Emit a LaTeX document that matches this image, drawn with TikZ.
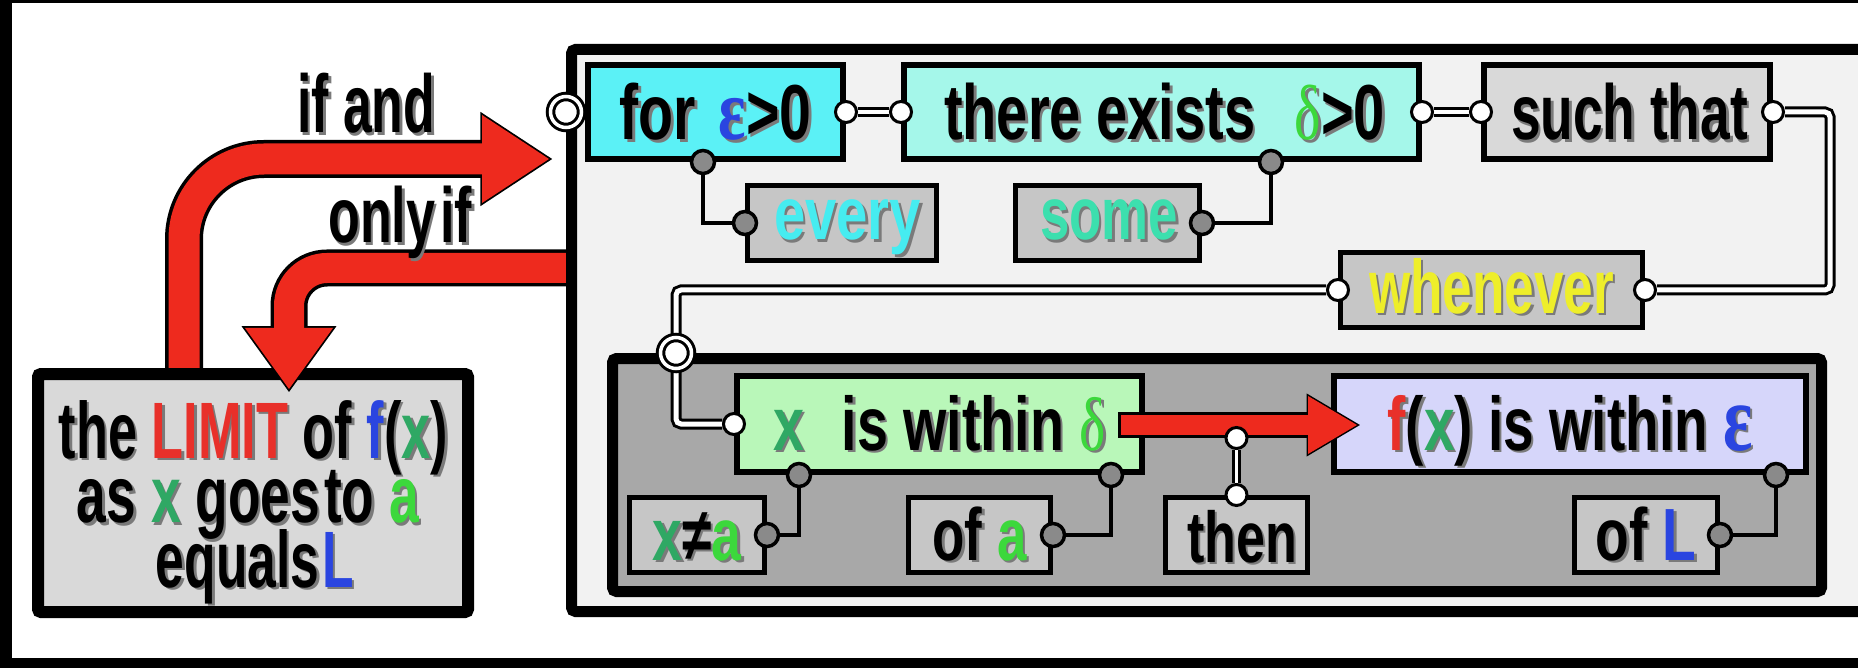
\documentclass[tikz,border=0pt]{standalone}
\usepackage{fontspec}
\usepackage{graphicx}
\setmainfont{Liberation Sans}
\newfontfamily\gk{Liberation Serif}
\usetikzlibrary{calc}
\pgfdeclarelayer{front}
\pgfsetlayers{main,front}

\definecolor{redA}{HTML}{EE2A1E}
\definecolor{redT}{HTML}{E8302A}
\definecolor{blueT}{HTML}{2A45E0}
\definecolor{tealG}{HTML}{2FA864}
\definecolor{limeG}{HTML}{3CD83C}
\definecolor{cyanT}{HTML}{46ECF0}
\definecolor{aquaT}{HTML}{3CDFAE}
\definecolor{yellowT}{HTML}{EEEE2A}
\definecolor{cyanF}{HTML}{5BF1F6}
\definecolor{aquaF}{HTML}{A5F7EA}
\definecolor{grayL}{HTML}{D9D9D9}
\definecolor{subg}{HTML}{C6C6C6}
\definecolor{greenF}{HTML}{B9F7B9}
\definecolor{lavF}{HTML}{D6D6FA}
\definecolor{outerF}{HTML}{F2F2F2}
\definecolor{innerG}{HTML}{A8A8A8}
\definecolor{cirg}{HTML}{8A8A8A}
\definecolor{shadowc}{HTML}{7A7A7A}

\newif\ifsh
\newcommand\C[2]{\ifsh#2\else\textcolor{#1}{#2}\fi}
\newcommand\Sh[1]{\leavevmode\rlap{\shtrue\color{shadowc}\raisebox{-2.5pt}{\kern2.5pt#1}}#1}
\newcommand\fitw[2]{\resizebox{#1}{\height}{#2}}
\newcommand\fitv[2]{\resizebox{#1}{1.4286\height}{#2}}
\newcommand\fs[1]{\fontsize{#1}{#1}\selectfont}
\newcommand\eps[1]{{\gk\scalebox{#1}{ε}}}
\newcommand\dlt{{\gk\mdseries δ}}

\begin{document}
\begin{tikzpicture}[x=1pt,y=-1pt,
  bx/.style={draw=black, line width=6pt, rectangle, inner sep=0pt, text depth=0pt, font=\bfseries},
  sbx/.style={bx, line width=5pt, fill=subg},
  wc/.style={circle, draw=black, line width=3pt, fill=white, minimum size=21pt, inner sep=0pt},
  gc/.style={circle, draw=black, line width=3.5pt, fill=cirg, minimum size=23pt, inner sep=0pt},
  dc/.style={circle, draw=black, double=white, double distance=3.5pt, line width=3pt, fill=white, minimum size=31pt, inner sep=0pt},
  dbl/.style={draw=black, double=white, double distance=3.5pt, line width=2.8pt},
  dblw/.style={draw=black, double=white, double distance=5pt, line width=3pt, rounded corners=5pt},
  gline/.style={draw=black, line width=4pt},
  rout/.style={draw=black, line width=38pt},
  rin/.style={draw=redA, line width=31pt},
  lbl/.style={inner sep=0pt, font=\bfseries},
]
\useasboundingbox (0,0) rectangle (1858,668);
\clip (0,0) rectangle (1858,668);
\fill[white] (0,0) rectangle (1858,668);
\fill[black] (0,0) rectangle (12,668);
\fill[black] (0,0) rectangle (1858,3);
\fill[black] (0,658) rectangle (1858,668);

% ---- arrow "if and" (under the limit box)
\coordinate (a1s) at (184,378);
\coordinate (a1c) at (184,159);
\coordinate (a1e) at (496,159);
\coordinate (h1a) at (482,115);
\coordinate (h1t) at (549,159);
\coordinate (h1b) at (482,203);
\draw[rout, rounded corners=80pt] (a1s) -- (a1c) -- (a1e);
\filldraw[black, line width=3.5pt, line join=miter] (h1a) -- (h1t) -- (h1b) -- cycle;
\draw[rin, rounded corners=80pt] (a1s) -- (a1c) -- (a1e);
\fill[redA] (h1a) -- (h1t) -- (h1b) -- cycle;

% ---- limit box
\node[bx, line width=12pt, fill=grayL, minimum width=430pt, minimum height=238pt, rounded corners=3pt] (limit) at (253,493) {};
\node[lbl, anchor=base] (limtxt) at (253.5,458) {\fs{56}\vtop{\baselineskip=64.5pt\lineskiplimit=-300pt\lineskip=0pt
  \hbox to 389pt{\hss\Sh{\fitv{389pt}{the \C{redT}{LIMIT} of \C{blueT}{f}(\C{tealG}{x})}}\hss}
  \hbox to 389pt{\hss\Sh{\fitv{342pt}{as \C{tealG}{x} goes\hspace{0.08em}to \C{limeG}{a}}}\hss\kern11pt}
  \hbox to 389pt{\kern3pt\hss\Sh{\fitv{198pt}{equals\hspace{0.06em}\C{blueT}{L}}}\hss}}};

% ---- arrow "only if" (over the limit box)
\coordinate (a2s) at (568,268);
\coordinate (a2c) at (289,268);
\coordinate (a2e) at (289,336);
\coordinate (h2a) at (245,328);
\coordinate (h2t) at (289,389);
\coordinate (h2b) at (333,328);
\draw[rout, line width=37pt, rounded corners=38pt] (a2s) -- (a2c) -- (a2e);
\filldraw[black, line width=3.5pt, line join=miter] (h2a) -- (h2t) -- (h2b) -- cycle;
\draw[rin, line width=30pt, rounded corners=38pt] (a2s) -- (a2c) -- (a2e);
\fill[redA] (h2a) -- (h2t) -- (h2b) -- cycle;

\node[lbl, anchor=base west] (tif) at (297,133) {\fs{82}\Sh{\fitw{138pt}{if and}}};
\node[lbl, anchor=base west] (tonly) at (328,243) {\fs{78}\Sh{\fitw{144pt}{only\hspace{0.1em}if}}};

% ---- big boxes
\node[draw=black, line width=11pt, fill=outerF, rounded corners=4pt, minimum width=1328.5pt, minimum height=562pt, inner sep=0pt] (outer) at (1235.75,330.5) {};
\node[draw=black, line width=11pt, fill=innerG, rounded corners=4pt, minimum width=1209pt, minimum height=233pt, inner sep=0pt] (gray) at (1217,475) {};

% ---- top row
\node[bx, fill=cyanF, minimum width=255pt, minimum height=94pt, text height=56pt] (for) at (715.5,112)
  {\fs{78}\Sh{\fitw{192pt}{for\hspace{0.4em}\C{blueT}{\eps{1.12}}>0}}};
\node[bx, fill=aquaF, minimum width=515pt, minimum height=94pt, text height=56pt] (there) at (1161.5,112)
  {\hspace{6pt}\fs{78}\Sh{\fitw{441pt}{there exists\hspace{0.7em}\C{limeG}{\dlt}>0}}};
\node[bx, fill=grayL, minimum width=286pt, minimum height=94pt, text height=56pt] (such) at (1627,112)
  {\hspace{5pt}\fs{78}\Sh{\fitw{237pt}{such that}}};

\node[sbx, minimum width=189pt, minimum height=75pt, text height=34pt] (every) at (842,223)
  {\hspace{11pt}\fs{74}\Sh{\fitw{147pt}{\C{cyanT}{every}}}};
\node[sbx, minimum width=184pt, minimum height=75pt, text height=34pt] (some) at (1107.5,223)
  {\hspace{3pt}\fs{74}\Sh{\fitw{138pt}{\C{aquaT}{some}}}};
\node[sbx, minimum width=302pt, minimum height=75pt, text height=46pt] (when) at (1491.5,290)
  {\fs{76}\Sh{\fitw{245pt}{\C{yellowT}{whenever}}}};

% ---- inside gray box
\node[bx, fill=greenF, minimum width=405pt, minimum height=96pt, text height=52pt] (green) at (939.5,424)
  {\fs{76}\Sh{\fitw{333pt}{\C{tealG}{x}\hspace{0.4em} is within \C{limeG}{\dlt}}}\hspace{34pt}};
\node[bx, fill=lavF, minimum width=472pt, minimum height=96pt, text height=52pt] (fx) at (1570,424)
  {\fs{76}\Sh{\fitw{365pt}{\C{redT}{f}(\C{tealG}{x}) is within \C{blueT}{\eps{1.25}}}}\hspace{15pt}};
\node[sbx, minimum width=135pt, minimum height=75pt, text height=50pt] (xna) at (697,535)
  {\fs{74}\Sh{\fitw{89pt}{\C{tealG}{x}≠\C{limeG}{a}}}\hspace{7pt}};
\node[sbx, minimum width=142pt, minimum height=75pt, text height=50pt] (ofa) at (979.5,535)
  {\fs{74}\Sh{\fitw{94pt}{of \C{limeG}{a}}}\hspace{9pt}};
\node[sbx, minimum width=142pt, minimum height=75pt, text height=54pt] (then) at (1236.5,535)
  {\hspace{11pt}\fs{72}\Sh{\fitw{110pt}{then}}};
\node[sbx, minimum width=143pt, minimum height=75pt, text height=50pt] (ofL) at (1646,535)
  {\fs{74}\Sh{\fitw{101pt}{of \C{blueT}{L}}}\hspace{9pt}};

% ---- red arrow then
\coordinate (a3s) at (1118,425);
\coordinate (a3r) at (1121,425);
\coordinate (a3e) at (1315,425);
\coordinate (h3a) at (1308,396);
\coordinate (h3t) at (1357,425);
\coordinate (h3b) at (1308,454);
\draw[draw=black, line width=26pt] (a3s) -- (a3e);
\filldraw[black, line width=3pt, line join=miter] (h3a) -- (h3t) -- (h3b) -- cycle;
\draw[draw=redA, line width=20pt] (a3r) -- (a3e);
\fill[redA] (h3a) -- (h3t) -- (h3b) -- cycle;

% ---- connector circles (front layer)
\begin{pgfonlayer}{front}
\node[dc] (dc1) at (outer.west |- for.west) {};
\node[dc] (dc2) at (gray.north -| 676,0) {};
\node[wc] (cforE) at (for.east) {};
\node[wc] (cthereW) at (there.west) {};
\node[wc] (cthereE) at (there.east) {};
\node[wc] (csuchW) at (such.west) {};
\node[wc] (csuchE) at (such.east) {};
\node[wc] (cwhenW) at (when.west) {};
\node[wc] (cwhenE) at (when.east) {};
\node[wc] (cgreenW) at (green.west) {};
\node[wc] (cthenA) at (then.north |- 0,438) {};
\node[wc] (cthenT) at (then.north) {};
\node[gc] (gforS) at (for.south -| 703,0) {};
\node[gc] (geveryW) at (every.west) {};
\node[gc] (gthereS) at (there.south -| 1271,0) {};
\node[gc] (gsomeE) at (some.east) {};
\node[gc] (ggreenS1) at (green.south -| 799,0) {};
\node[gc] (ggreenS2) at (green.south -| 1111,0) {};
\node[gc] (gxnaE) at (xna.east) {};
\node[gc] (gofaE) at (ofa.east) {};
\node[gc] (gfxS) at (fx.south -| 1776,0) {};
\node[gc] (gofLE) at (ofL.east) {};
\end{pgfonlayer}

% ---- connectors
\coordinate (k1) at (1830,112);
\draw[dbl] (cforE) -- (cthereW);
\draw[dbl] (cthereE) -- (csuchW);
\draw[dblw] (csuchE) -- (k1) |- (cwhenE);
\draw[dblw] (cwhenW) -| (dc2);
\draw[dblw] (dc2) |- (cgreenW);
\draw[dbl] (cthenA) -- (cthenT);
\draw[gline] (gforS) |- (geveryW);
\draw[gline] (gthereS) |- (gsomeE);
\draw[gline] (ggreenS1) |- (gxnaE);
\draw[gline] (ggreenS2) |- (gofaE);
\draw[gline] (gfxS) |- (gofLE);
\end{tikzpicture}
\end{document}
